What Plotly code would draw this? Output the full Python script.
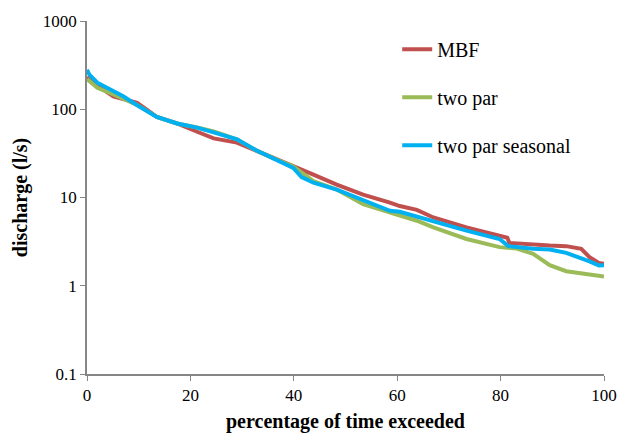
import plotly.graph_objects as go

# Flow duration curves: discharge vs percentage of time exceeded
mbf_x = [0, 2, 5.1, 9.7, 13.5, 17.4, 21.3, 24.5, 29, 32.8, 36, 39.9, 43.8, 48.3,
         53.4, 58.6, 60.5, 63.8, 67, 73.4, 79.8, 81.3, 81.7, 86.3, 89.5, 92.7,
         95.6, 97.2, 99, 100]
mbf_y = [232, 185, 140, 118, 82, 69, 55.6, 46.8, 41.9, 34, 27.9, 22.9, 18.2, 14.0,
         10.8, 8.74, 8.0, 7.24, 5.94, 4.58, 3.76, 3.5, 3.06, 2.9, 2.86, 2.81,
         2.62, 2.11, 1.81, 1.78]

twopar_x = [0, 2, 5.1, 9.7, 13.5, 17.4, 21.3, 24.5, 29, 32.8, 36, 39.9, 43.8, 48.3,
            53.4, 58.6, 60.5, 63.8, 67, 73.4, 79.8, 83, 86.3, 88.5, 89.5, 92.7,
            95.6, 100]
twopar_y = [220, 175, 147, 112, 82, 69, 62, 56, 45.6, 34, 27.9, 22.5, 15.3, 12.3,
            8.4, 6.75, 6.2, 5.45, 4.58, 3.39, 2.74, 2.65, 2.3, 1.85, 1.71, 1.46,
            1.38, 1.27]

seasonal_x = [0, 0.5, 2, 5.1, 7, 9.7, 13.5, 17.4, 21.3, 24.5, 29, 32.8, 36, 39.9,
              41.5, 43.8, 48.3, 53.4, 58.6, 60.5, 63.8, 67, 73.4, 79.8, 81.5, 86.3,
              89.5, 92.7, 95.6, 97.2, 99, 100]
seasonal_y = [280, 245, 200, 163, 140, 111, 82, 69, 62, 54.7, 45.6, 34, 27.9, 21.6,
              17, 14.7, 12.3, 9.4, 7.06, 6.9, 6.04, 5.31, 4.21, 3.39, 2.81, 2.62,
              2.58, 2.36, 2.06, 1.89, 1.7, 1.71]

x_ticks = [0, 20, 40, 60, 80, 100]
y_ticks = [0.1, 1, 10, 100, 1000]
y_tick_labels = ["0.1", "1", "10", "100", "1000"]

series = [
    ("MBF", mbf_x, mbf_y, "#C0504D"),
    ("two par", twopar_x, twopar_y, "#9BBB59"),
    ("two par seasonal", seasonal_x, seasonal_y, "#00B0F0"),
]

fig = go.Figure()
for name, xs, ys, color in series:
    fig.add_trace(go.Scatter(
        x=xs, y=ys, name=name, mode="lines", legendgroup=name,
        line=dict(color=color, width=4),
    ))

font_family = "'Times New Roman', 'Liberation Serif', serif"
axis_color = "#868686"

fig.update_layout(
    width=630, height=444,
    margin=dict(l=87, r=26, t=17, b=70),
    paper_bgcolor="white", plot_bgcolor="white",
    font=dict(family=font_family, size=17, color="black"),
    showlegend=True,
    legend=dict(
        x=0.6, y=0.975, xanchor="left", yanchor="top",
        font=dict(family=font_family, size=20, color="black"),
        tracegroupgap=19, bgcolor="rgba(0,0,0,0)",
    ),
    xaxis=dict(
        range=[0, 100], tickvals=x_ticks, showgrid=False, zeroline=False,
        showline=True, linecolor=axis_color, linewidth=1.5,
        ticks="outside", ticklen=5, tickcolor=axis_color,
        tickfont=dict(family=font_family, size=17),
        title=dict(text="<b>percentage of time exceeded</b>",
                   font=dict(family=font_family, size=20), standoff=10),
    ),
    yaxis=dict(
        type="log", range=[-1, 3], tickvals=y_ticks, ticktext=y_tick_labels,
        showgrid=False, zeroline=False,
        showline=True, linecolor=axis_color, linewidth=1.5,
        ticks="outside", ticklen=5, tickcolor=axis_color,
        tickfont=dict(family=font_family, size=17),
        title=dict(text="<b>discharge (l/s)</b>",
                   font=dict(family=font_family, size=20), standoff=10),
    ),
)

fig.write_html("out.html")
